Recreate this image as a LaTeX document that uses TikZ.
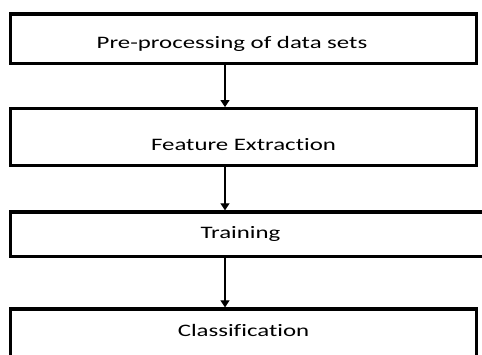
\documentclass[tikz,border=0pt]{standalone}
\usepackage{fontspec}
\newfontfamily\boxfont{Carlito}[FakeStretch=1.42, Ligatures=NoCommon]
\usetikzlibrary{arrows.meta}

\begin{document}
\begin{tikzpicture}[x=1pt, y=-1pt]
    \tikzstyle{box}=[rectangle, draw=black, line width=3.2pt, fill=white, inner sep=0pt, font=\boxfont\fontsize{17.5}{20}\selectfont, text=black, text height=11.3pt, text depth=0pt]
    \tikzstyle{arrow}=[-{Triangle[width=9pt, length=7pt]}, line width=1.1pt, black]

    \path[use as bounding box, clip] (0,0) rectangle (482,355);

    \node[box, minimum width=466pt, minimum height=49.5pt, text height=18.8pt] (pre) at (243.5,38.75) {\hspace*{-23pt}Pre-processing of data sets};
    \node[box, minimum width=466pt, minimum height=56.5pt, text height=27.3pt] (feat) at (243.5,137) {Feature Extraction};
    \node[box, minimum width=481.5pt, minimum height=44.7pt, text depth=3pt] (train) at (251.25,234.3) {\hspace*{-21.5pt}Training};
    \node[box, minimum width=466pt, minimum height=56.5pt, text depth=12pt] (cls) at (243.5,337.25) {Classification};

    % arrows run left of the box centres
    \coordinate (ax) at (225,0);
    \draw[arrow] (pre.south -| ax) -- (feat.north -| ax);
    \draw[arrow] (feat.south -| ax) -- (train.north -| ax);
    \draw[arrow] (train.south -| ax) -- (cls.north -| ax);
\end{tikzpicture}
\end{document}
